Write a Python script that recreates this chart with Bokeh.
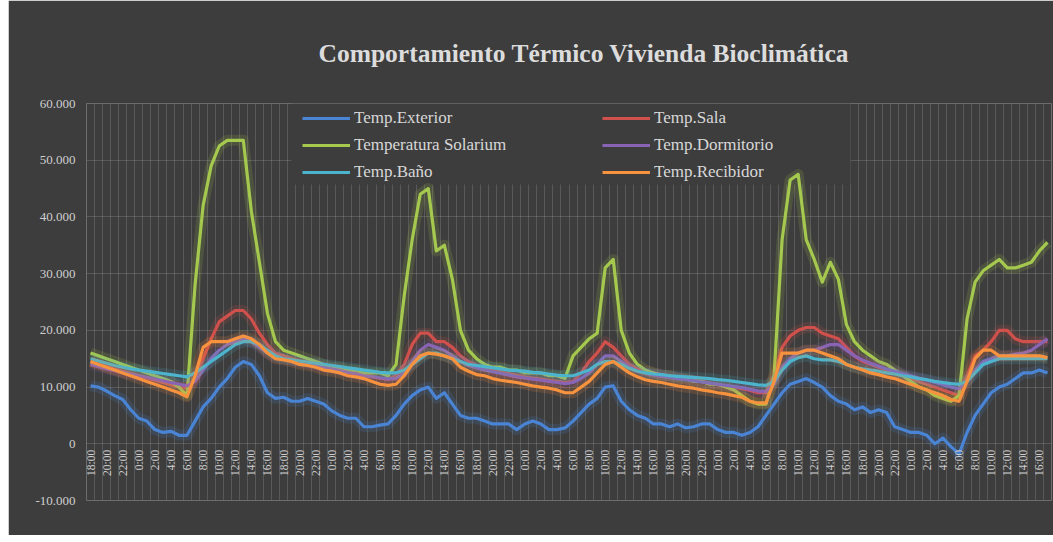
import math
from bokeh.plotting import figure
from bokeh.models import Range1d, FixedTicker, Legend, LegendItem, Spacer
from bokeh.layouts import row
from bokeh.core.properties import value
from bokeh.embed import file_html
from bokeh.resources import INLINE

# hourly samples starting at 18:00
times = [f"{(18 + k) % 24}:00" for k in range(120)]

temp_exterior = [
    10.2, 10.0, 9.3, 8.5, 7.8, 6.0, 4.5, 4.0, 2.5, 2.0, 2.2, 1.5,
    1.5, 4.0, 6.5, 8.0, 10.0, 11.5, 13.5, 14.5, 14.0, 12.0, 9.0, 8.0,
    8.2, 7.5, 7.5, 8.0, 7.5, 7.0, 5.8, 5.0, 4.5, 4.5, 3.0, 3.0,
    3.3, 3.5, 5.0, 7.0, 8.5, 9.5, 10.0, 8.0, 9.0, 7.0, 5.0, 4.5,
    4.5, 4.0, 3.5, 3.5, 3.5, 2.5, 3.5, 4.0, 3.5, 2.5, 2.5, 2.8,
    4.0, 5.5, 7.0, 8.0, 10.0, 10.2, 7.5, 6.0, 5.0, 4.5, 3.5, 3.5,
    3.0, 3.5, 2.8, 3.0, 3.5, 3.5, 2.5, 2.0, 2.0, 1.5, 2.0, 3.0,
    5.0, 7.0, 9.0, 10.5, 11.0, 11.5, 10.8, 10.0, 8.5, 7.5, 7.0, 6.0,
    6.5, 5.5, 6.0, 5.5, 3.0, 2.5, 2.0, 2.0, 1.5, 0.0, 1.0, -0.5,
    -1.8, 2.0, 5.0, 7.0, 9.0, 10.0, 10.5, 11.5, 12.5, 12.5, 13.0, 12.5,
]
temp_sala = [
    14.5, 14.0, 13.6, 13.2, 12.8, 12.4, 12.0, 11.6, 11.2, 10.8, 10.4, 10.0,
    9.8, 11.5, 15.0, 18.5, 21.5, 22.5, 23.5, 23.5, 22.0, 19.5, 17.5, 16.0,
    15.5, 15.0, 14.6, 14.3, 14.0, 13.7, 13.4, 13.1, 12.8, 12.5, 12.2, 11.9,
    11.6, 11.4, 12.0, 14.0, 17.5, 19.5, 19.5, 18.0, 18.0, 17.0, 15.5, 14.5,
    13.8, 13.4, 13.0, 12.7, 12.4, 12.1, 11.8, 11.6, 11.4, 11.2, 11.0, 10.8,
    11.0, 12.5, 14.5, 16.0, 18.0, 17.0, 15.5, 14.0, 13.2, 12.8, 12.5, 12.2,
    12.0, 11.7, 11.4, 11.2, 11.0, 10.7, 10.4, 10.2, 10.0, 9.7, 9.4, 9.0,
    9.0, 12.0, 17.0, 19.0, 20.0, 20.5, 20.5, 19.5, 19.0, 18.5, 17.0, 15.5,
    14.5, 14.0, 13.5, 13.0, 12.5, 12.0, 11.5, 11.0, 10.5, 10.0, 9.5, 9.0,
    8.5, 12.0, 15.5, 16.5, 18.0, 20.0, 20.0, 18.5, 18.0, 18.0, 18.0, 18.0,
]
temp_solarium = [
    16.0, 15.5, 15.0, 14.5, 14.0, 13.5, 13.0, 12.5, 12.0, 11.5, 11.0, 10.0,
    8.5, 28.0, 42.0, 49.0, 52.5, 53.5, 53.5, 53.5, 41.0, 32.0, 23.0, 18.0,
    16.5, 16.0, 15.5, 15.0, 14.5, 14.0, 13.5, 13.5, 13.0, 13.0, 12.5, 12.5,
    12.5, 12.0, 14.0, 26.0, 36.0, 44.0, 45.0, 34.0, 35.0, 29.0, 20.0, 16.5,
    15.0, 14.0, 13.5, 13.5, 13.0, 13.0, 12.5, 12.5, 12.5, 12.0, 12.0, 11.5,
    15.5, 17.0, 18.5, 19.5, 31.0, 32.5, 20.0, 16.0, 14.0, 13.0, 12.5, 12.0,
    12.0, 11.5, 11.5, 11.0, 11.0, 10.5, 10.5, 10.0, 9.5, 8.5, 7.5, 7.0,
    7.0, 12.0, 36.0, 46.5, 47.5, 36.0, 32.5, 28.5, 32.0, 29.0, 21.0, 18.0,
    16.5, 15.5, 14.5, 14.0, 13.0, 12.0, 11.0, 10.0, 9.5, 8.5, 8.0, 7.5,
    8.5, 22.0, 28.5, 30.5, 31.5, 32.5, 31.0, 31.0, 31.5, 32.0, 34.0, 35.5,
]
temp_dormitorio = [
    14.0, 13.6, 13.2, 12.9, 12.6, 12.3, 12.0, 11.7, 11.4, 11.1, 10.8, 10.5,
    10.2, 11.0, 13.0, 15.0, 16.5, 17.5, 18.0, 18.5, 18.0, 17.0, 16.0, 15.3,
    15.0, 14.7, 14.4, 14.1, 13.8, 13.5, 13.2, 12.9, 12.6, 12.3, 12.0, 11.8,
    11.6, 11.4, 11.5, 12.5, 14.5, 16.5, 17.5, 17.0, 16.5, 15.5, 14.5, 13.8,
    13.4, 13.0, 12.7, 12.4, 12.1, 11.8, 11.6, 11.4, 11.2, 11.0, 10.8, 10.6,
    10.8, 11.5, 12.5, 14.0, 15.5, 15.5, 14.5, 13.5, 12.8, 12.4, 12.1, 11.9,
    11.7, 11.5, 11.3, 11.1, 10.9, 10.7, 10.5, 10.3, 10.1, 9.9, 9.6, 9.3,
    9.2, 10.5, 13.5, 15.0, 16.0, 16.5, 16.5, 17.0, 17.5, 17.5, 16.5, 15.5,
    14.8, 14.2, 13.7, 13.2, 12.8, 12.4, 12.0, 11.6, 11.2, 10.8, 10.4, 10.0,
    9.7, 11.0, 13.0, 14.5, 15.0, 15.5, 15.5, 15.8, 16.0, 16.5, 17.5, 18.5,
]
temp_bano = [
    15.0, 14.6, 14.2, 13.8, 13.5, 13.2, 13.0, 12.8, 12.6, 12.4, 12.2, 12.0,
    11.8, 12.5, 13.5, 14.5, 15.5, 16.5, 17.5, 18.0, 18.0, 17.5, 16.5, 15.5,
    15.0, 14.8, 14.6, 14.4, 14.2, 14.0, 13.8, 13.6, 13.4, 13.2, 13.0, 12.8,
    12.6, 12.5, 12.5, 13.0, 14.0, 15.0, 16.0, 16.0, 15.5, 15.0, 14.5, 14.0,
    13.8, 13.6, 13.4, 13.2, 13.0, 12.9, 12.8, 12.6, 12.5, 12.3, 12.1, 12.0,
    12.0, 12.5, 13.0, 14.0, 14.5, 14.5, 14.0, 13.3, 12.8, 12.5, 12.3, 12.2,
    12.0, 11.9, 11.8, 11.7, 11.6, 11.5, 11.3, 11.2, 11.0, 10.8, 10.6, 10.4,
    10.3, 11.0, 13.0, 14.5, 15.2, 15.5, 15.0, 14.8, 14.8, 14.5, 14.0, 13.5,
    13.2, 13.0, 12.8, 12.5, 12.3, 12.0, 11.8, 11.5, 11.3, 11.0, 10.8, 10.6,
    10.5, 11.0, 12.5, 14.0, 14.5, 15.0, 15.0, 15.0, 15.0, 15.0, 15.0, 15.0,
]
temp_recibidor = [
    14.5, 14.0, 13.5, 13.0, 12.5, 12.0, 11.5, 11.0, 10.5, 10.0, 9.5, 9.0,
    8.3, 12.0, 17.0, 18.0, 18.0, 18.0, 18.5, 19.0, 18.5, 17.5, 16.0, 15.0,
    14.8, 14.5, 14.0, 13.8, 13.5, 13.0, 12.8, 12.5, 12.0, 11.8, 11.5, 11.0,
    10.5, 10.3, 10.5, 12.0, 14.0, 15.5, 16.0, 15.8, 15.5, 15.0, 13.5, 12.8,
    12.2, 12.0, 11.5, 11.2, 11.0, 10.8, 10.5, 10.2, 10.0, 9.8, 9.5, 9.0,
    9.0, 10.0, 11.0, 12.5, 14.0, 14.5, 13.5, 12.5, 11.8, 11.3, 11.0, 10.8,
    10.5, 10.2, 10.0, 9.8, 9.5, 9.3, 9.0, 8.8, 8.5, 8.2, 7.5, 7.2,
    7.2, 11.0, 16.0, 16.0, 16.0, 16.5, 16.5, 16.0, 15.5, 15.0, 14.0, 13.5,
    13.0, 12.5, 12.2, 11.8, 11.5, 11.0, 10.5, 10.0, 9.5, 9.0, 8.5, 7.8,
    7.5, 11.0, 15.0, 16.5, 16.5, 15.5, 15.5, 15.5, 15.5, 15.5, 15.5, 15.2,
]

series_names = ["Temp.Exterior", "Temp.Sala", "Temperatura Solarium",
                "Temp.Dormitorio", "Temp.Baño", "Temp.Recibidor"]
series_values = [temp_exterior, temp_sala, temp_solarium,
                 temp_dormitorio, temp_bano, temp_recibidor]
series_colors = ["#4a84d4", "#d0504c", "#a5c84e", "#8a64b4", "#4cb4cc", "#f7923e"]

y_ticks = [-10, 0, 10, 20, 30, 40, 50, 60]
y_tick_labels = ["-10.000", "0", "10.000", "20.000", "30.000", "40.000", "50.000", "60.000"]

BG = "#3d3d3d"
TXT = "#cfcfcf"
FONT = "Liberation Serif"

# page-pixel layout of the plot frame (spacer of 8px on the left)
FRAME_L, FRAME_R, FRAME_T, FRAME_B = 86, 1051, 103, 500
Y0, Y1 = -10, 60
N = len(times)

p = figure(width=1045, height=535, output_backend="svg", toolbar_location=None,
           x_range=Range1d(-0.5, N - 0.5), y_range=Range1d(Y0, Y1),
           background_fill_color=BG, border_fill_color=BG,
           min_border_left=78, min_border_right=2, min_border_top=103,
           min_border_bottom=35)
p.outline_line_color = None
p.xaxis.visible = False

p.xgrid.ticker = FixedTicker(ticks=[k - 0.5 for k in range(N + 1)])
p.xgrid.grid_line_color = "#9a9a9a"
p.xgrid.grid_line_alpha = 0.3
p.ygrid.ticker = FixedTicker(ticks=y_ticks)
p.ygrid.grid_line_color = "#9a9a9a"
p.ygrid.grid_line_alpha = 0.3

p.yaxis.ticker = FixedTicker(ticks=y_ticks)
p.yaxis.major_label_overrides = dict(zip(y_ticks, y_tick_labels))
p.yaxis.axis_line_color = None
p.yaxis.major_tick_line_color = None
p.yaxis.major_tick_out = 0
p.yaxis.major_tick_in = 0
p.yaxis.minor_tick_line_color = None
p.yaxis.major_label_standoff = 11
p.yaxis.major_label_text_font = FONT
p.yaxis.major_label_text_font_size = "13px"
p.yaxis.major_label_text_color = TXT

p.title.text = "Comportamiento Térmico Vivienda Bioclimática"
p.title.align = "left"
p.title.offset = 232
p.title.standoff = 71
p.title.text_font = FONT
p.title.text_font_style = "bold"
p.title.text_font_size = "25.5px"
p.title.text_color = "#dcdcdc"


def px_to_x(px):
    return -0.5 + (px - FRAME_L) * N / (FRAME_R - FRAME_L)


def py_to_y(py):
    return Y1 - (py - FRAME_T) * (Y1 - Y0) / (FRAME_B - FRAME_T)


# legend panel: hides the gridlines behind the legend but stays under the series
p.quad(left=[px_to_x(291)], right=[px_to_x(850)], top=[Y1], bottom=[py_to_y(184)],
       fill_color=BG, line_color=None)

xs = list(range(N))
renderers = []
for name, vals, col in zip(series_names, series_values, series_colors):
    p.line(xs, vals, line_width=11, line_color=col, line_alpha=0.16, line_join="round")
    r = p.line(xs, vals, line_width=3.2, line_color=col, line_join="round")
    renderers.append(r)

# category labels every 2 hours, sitting below the zero line
lab_idx = xs[::2]
p.text(x=lab_idx, y=[0] * len(lab_idx), text=[times[k] for k in lab_idx],
       angle=math.pi / 2, text_align="right", text_baseline="middle", y_offset=6,
       text_font=value(FONT), text_font_size="11.5px", text_color=TXT)

common = dict(glyph_width=48, glyph_height=20, label_height=20, spacing=7, padding=6,
              margin=0, label_standoff=4, background_fill_alpha=0.0, border_line_alpha=0,
              label_text_font=FONT, label_text_font_size="17px", label_text_color="#d8d8d8")
leg1 = Legend(items=[LegendItem(label=series_names[i], renderers=[renderers[i]]) for i in (0, 2, 4)],
              location=(210, 312), label_width=236, **common)
leg2 = Legend(items=[LegendItem(label=series_names[i], renderers=[renderers[i]]) for i in (1, 3, 5)],
              location=(510, 312), label_width=190, **common)
p.add_layout(leg1)
p.add_layout(leg2)

layout = row(Spacer(width=8, height=535), p)
open("out.html", "w").write(file_html(layout, INLINE))
